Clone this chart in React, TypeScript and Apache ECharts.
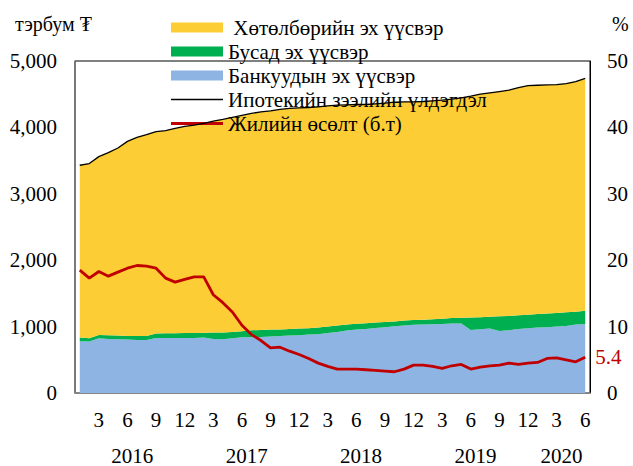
import React, { useEffect, useRef } from "react";
import * as echarts from "echarts";

// Months Jan 2016 .. Jun 2020
const monthLabels = [
  1, 2, 3, 4, 5, 6, 7, 8, 9, 10, 11, 12,
  1, 2, 3, 4, 5, 6, 7, 8, 9, 10, 11, 12,
  1, 2, 3, 4, 5, 6, 7, 8, 9, 10, 11, 12,
  1, 2, 3, 4, 5, 6, 7, 8, 9, 10, 11, 12,
  1, 2, 3, 4, 5, 6,
].map(String);
const years = ["2016", "2017", "2018", "2019", "2020"];
const monthsPerYear = [12, 12, 12, 12, 6];

// total mortgage balance (bn MNT)
const totalLoans = [
  3430, 3455, 3560, 3620, 3690, 3790, 3850, 3890, 3935, 3950, 3985, 4015,
  4035, 4060, 4095, 4120, 4150, 4180, 4210, 4235, 4250, 4270, 4285, 4295,
  4300, 4310, 4325, 4335, 4340, 4345, 4345, 4355, 4365, 4380, 4385, 4385,
  4390, 4400, 4410, 4425, 4445, 4470, 4500, 4520, 4540, 4560, 4600, 4630,
  4635, 4640, 4645, 4660, 4690, 4740,
];
// bank sources
const bankSource = [
  780, 775, 825, 815, 810, 805, 800, 800, 830, 830, 830, 830,
  830, 835, 815, 810, 825, 838, 840, 845, 850, 860, 865, 870,
  880, 885, 905, 920, 940, 955, 965, 978, 992, 1005, 1018, 1028,
  1033, 1035, 1040, 1045, 1048, 950, 960, 970, 935, 945, 965, 975,
  985, 990, 1000, 1010, 1030, 1040,
];
// other sources
const otherSource = [
  55, 50, 50, 55, 55, 55, 58, 60, 65, 68, 70, 73,
  75, 73, 95, 102, 95, 92, 105, 105, 105, 98, 100, 100,
  95, 100, 95, 95, 90, 87, 85, 82, 76, 70, 72, 72,
  72, 75, 80, 83, 85, 188, 182, 180, 220, 215, 205, 205,
  205, 208, 205, 205, 195, 198,
];
// program sources
const programSource = totalLoans.map((t, i) => t - bankSource[i] - otherSource[i]);
// annual growth, %
const annualGrowth = [
  18.5, 17.3, 18.3, 17.6, 18.2, 18.8, 19.2, 19.1, 18.8, 17.3, 16.7, 17.1,
  17.5, 17.5, 14.8, 13.6, 12.2, 10.2, 8.8, 7.9, 6.8, 6.9, 6.3, 5.8,
  5.2, 4.5, 4.0, 3.6, 3.6, 3.6, 3.5, 3.4, 3.3, 3.2, 3.6, 4.2,
  4.2, 4.0, 3.7, 4.1, 4.3, 3.6, 3.9, 4.1, 4.2, 4.5, 4.3, 4.5,
  4.6, 5.2, 5.3, 5.0, 4.7, 5.4,
];

const seriesNames = [
  " Хөтөлбөрийн эх үүсвэр",
  "Бусад эх үүсвэр",
  "Банкуудын эх үүсвэр",
  "Ипотекийн зээлийн үлдэгдэл",
  "Жилийн өсөлт (б.т)",
];

const COLORS = {
  program: "#FDCD35",
  other: "#00B050",
  bank: "#8EB4E3",
  total: "#000000",
  growth: "#C00000",
};

const FONT = "'Liberation Serif', 'Times New Roman', serif";

export default function App() {
  const ref = useRef<HTMLDivElement>(null);

  useEffect(() => {
    document.body.style.margin = "0";
    if (!ref.current) return;
    const chart = echarts.init(ref.current, null, { renderer: "svg" });

    // boundary categories for year labels (centered in each year)
    const boundaries: string[] = new Array(monthLabels.length + 1).fill("");
    let start = 0;
    years.forEach((y, k) => {
      boundaries[start + monthsPerYear[k] / 2] = y;
      start += monthsPerYear[k];
    });

    const option: any = {
      animation: false,
      textStyle: { fontFamily: FONT, color: "#000" },
      grid: {
        left: 75,
        right: 43,
        top: 61,
        bottom: 71,
        show: true,
        borderColor: "#000",
        borderWidth: 1,
        backgroundColor: "transparent",
      },
      legend: {
        orient: "vertical",
        left: 166,
        top: 12,
        itemWidth: 52,
        itemHeight: 10,
        itemGap: 3,
        symbolKeepAspect: true,
        textStyle: { fontFamily: FONT, fontSize: 21, lineHeight: 20, color: "#000" },
        data: [
          { name: seriesNames[0], icon: "rect" },
          { name: seriesNames[1], icon: "rect" },
          { name: seriesNames[2], icon: "rect" },
          { name: seriesNames[3], icon: "path://M0,0 L52,0 L52,1.4 L0,1.4 Z" },
          { name: seriesNames[4], icon: "path://M0,0 L52,0 L52,3 L0,3 Z" },
        ],
        selectedMode: false,
      },
      graphic: [
        {
          type: "text",
          left: 15,
          top: 14,
          style: { text: "тэрбум ₮", font: `20px ${FONT}`, fill: "#000" },
        },
        {
          type: "text",
          left: 612,
          top: 14,
          style: { text: "%", font: `20px ${FONT}`, fill: "#000" },
        },
      ],
      xAxis: [
        {
          type: "category",
          data: monthLabels,
          boundaryGap: true,
          axisLine: { show: true, lineStyle: { color: "#888", width: 1.5 } },
          axisTick: { show: false },
          splitLine: { show: false },
          axisLabel: {
            interval: (index: number) => Number(monthLabels[index]) % 3 === 0,
            margin: 16,
            fontSize: 21,
            fontFamily: FONT,
            color: "#000",
          },
        },
        {
          type: "category",
          data: boundaries,
          boundaryGap: false,
          position: "bottom",
          offset: 45,
          axisLine: { show: false },
          axisTick: { show: false },
          splitLine: { show: false },
          axisLabel: {
            interval: 0,
            margin: 7,
            fontSize: 21,
            fontFamily: FONT,
            color: "#000",
          },
        },
      ],
      yAxis: [
        {
          type: "value",
          min: 0,
          max: 5000,
          interval: 1000,
          position: "left",
          splitLine: { show: false },
          axisTick: { show: false },
          axisLine: { show: true, lineStyle: { color: "#777", width: 1.5 } },
          axisLabel: {
            margin: 18,
            fontSize: 21,
            fontFamily: FONT,
            color: "#000",
            formatter: (v: number) => v.toLocaleString("en-US"),
          },
        },
        {
          type: "value",
          min: 0,
          max: 50,
          interval: 10,
          position: "right",
          splitLine: { show: false },
          axisTick: { show: false },
          axisLine: { show: true, lineStyle: { color: "#000", width: 1 } },
          axisLabel: {
            margin: 17,
            fontSize: 21,
            fontFamily: FONT,
            color: "#000",
          },
        },
      ],
      series: [
        {
          name: seriesNames[2],
          type: "line",
          stack: "src",
          data: bankSource,
          symbol: "none",
          color: COLORS.bank,
          lineStyle: { width: 0 },
          areaStyle: { color: COLORS.bank, opacity: 1 },
          z: 2,
        },
        {
          name: seriesNames[1],
          type: "line",
          stack: "src",
          data: otherSource,
          symbol: "none",
          color: COLORS.other,
          lineStyle: { width: 0 },
          areaStyle: { color: COLORS.other, opacity: 1 },
          z: 2,
        },
        {
          name: seriesNames[0],
          type: "line",
          stack: "src",
          data: programSource,
          symbol: "none",
          color: COLORS.program,
          lineStyle: { width: 0 },
          areaStyle: { color: COLORS.program, opacity: 1 },
          z: 2,
        },
        {
          name: seriesNames[3],
          type: "line",
          data: totalLoans,
          symbol: "none",
          color: COLORS.total,
          lineStyle: { width: 1.3, color: COLORS.total },
          z: 4,
        },
        {
          name: seriesNames[4],
          type: "line",
          yAxisIndex: 1,
          data: annualGrowth,
          symbol: "none",
          color: COLORS.growth,
          lineStyle: { width: 2.8, color: COLORS.growth },
          z: 5,
          endLabel: {
            show: true,
            distance: 10,
            fontSize: 21,
            fontFamily: FONT,
            color: COLORS.growth,
            formatter: (p: any) => Number(p.value).toFixed(1),
          },
        },
      ],
    };

    chart.setOption(option);
    return () => chart.dispose();
  }, []);

  return <div ref={ref} style={{ width: 633, height: 466 }} />;
}
